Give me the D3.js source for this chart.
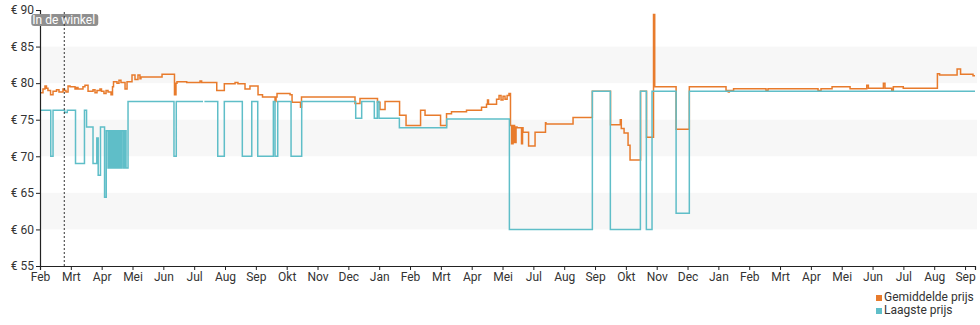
<!DOCTYPE html>
<html>
<head>
<meta charset="utf-8">
<script src="https://cdn.jsdelivr.net/npm/d3@7"></script>
<style>
body { margin: 0; background: #fff; }
svg { display: block; font-family: Roboto, sans-serif; }
</style>
</head>
<body>
<div id="chart"></div>
<script>
const width = 980;
const height = 325;

// first x tick, ticks come every 31 days
const startDate = Date.UTC(2022, 1, 20);
const dayMs = 864e5;
const tickStepDays = 31;
const tickCount = 31;
const lastDay = 940;

const monthNames = ["Jan", "Feb", "Mrt", "Apr", "Mei", "Jun", "Jul", "Aug", "Sep", "Okt", "Nov", "Dec"];
const priceTicks = [55, 60, 65, 70, 75, 80, 85, 90];
const bands = [[80, 85], [70, 75], [60, 65]];
const inStoreDay = 24.4;
const seriesNames = ["Gemiddelde prijs", "Laagste prijs"];

// [days since first tick, price]
const avgPrice = [
    [0, 78.7], [3, 79.2], [5, 79.6], [6.5, 79.3], [8, 79.0], [10.6, 78.4], [13.1, 78.9],
    [16.6, 79.1], [19.1, 78.8], [23.1, 79.2], [24.6, 79.0], [26.1, 78.8], [28.2, 79.6],
    [30.2, 79.5], [35.2, 79.2], [36.7, 79.4], [38.2, 79.2], [43.2, 79.5], [45.2, 79.7],
    [48.3, 78.9], [53.3, 79.1], [55.3, 78.7], [57.3, 79.0], [60.3, 79.2], [61.8, 78.9],
    [64.3, 78.6], [66.4, 79.0], [68.4, 78.8], [71.4, 78.4], [72.9, 79.5], [73.9, 80.2],
    [77.4, 80.0], [79.4, 80.4], [81.4, 80.1], [85.5, 79.2], [87.5, 80.2], [92.5, 81.1],
    [95.5, 80.5], [98.5, 81.1], [100.5, 80.6], [101.5, 80.85], [122.7, 81.2], [135.2, 78.4],
    [136.7, 80.0], [137.7, 80.2], [147.5, 80.1], [160.9, 80.3], [162.5, 80.1], [177.7, 79.0],
    [185.3, 79.9], [196.1, 80.1], [199, 79.9], [206.1, 79.2], [211.1, 79.6], [219.2, 78.4],
    [223.7, 78.1], [236.3, 77.5], [237.3, 78.1], [238.3, 78.6], [251.4, 78.4], [253.4, 77.4],
    [261.9, 76.7], [262.9, 78.1], [316.7, 77.2], [321.7, 77.9], [339.3, 77.4], [341.8, 76.4],
    [346.9, 77.5], [361.5, 75.6], [368, 74.2], [382.6, 76.3], [387.1, 75.6], [402.7, 74.2],
    [408.7, 75.8], [413.7, 76.1], [428.8, 76.3], [443.9, 76.7], [448.9, 77.1], [449.9, 77.7],
    [450.9, 77.1], [459, 77.8], [461.5, 78.3], [463.5, 77.7], [465.5, 78.2], [467.5, 77.8],
    [469.6, 78.3], [471.5, 78.6], [473, 74.2], [474.1, 71.7], [475.6, 74.2], [477.1, 71.9],
    [478.6, 74.0], [479.6, 73.9], [484.1, 71.7], [485.1, 73.9], [485.6, 73.3], [491.2, 71.4],
    [497.7, 73.3], [508.2, 74.6], [508.7, 74.4], [535.9, 75.3], [555.3, 78.9], [573.6, 74.3],
    [583.4, 75.0], [584.4, 73.8], [587.2, 73.2], [591.2, 71.5], [593.2, 69.5], [603.8, 78.9],
    [609.8, 72.6], [616.8, 89.4], [618, 79.5], [639.5, 73.7], [652.8, 79.5], [689.7, 79.0],
    [692, 78.8], [693, 79.0], [697.3, 79.25], [729.9, 79.0], [731.9, 79.25], [782.2, 79.0],
    [785.2, 79.25], [796.3, 79.5], [814.4, 79.25], [831.2, 79.7], [832.8, 79.3], [847.9, 80.0],
    [849.5, 79.3], [856.3, 79.0], [857.9, 79.5], [867.9, 79.3], [902.2, 81.3], [904.4, 81.1],
    [922, 81.95], [925.5, 81.2], [938, 81.0], [940, 81.0]
];

const lowPrice = [
    [0, 76.3], [10.8, 70.0], [13.1, 76.3], [24.8, 76.0], [27.4, 76.3], [35.7, 69.0],
    [44.7, 76.3], [46.8, 74.0], [53.3, 69.0], [57.1, 72.5], [58.5, 67.4], [60.8, 74.0],
    [64.9, 64.4], [66.6, 73.5], [68.4, 68.4], [69.9, 73.5], [71.4, 68.4], [72.9, 73.5],
    [74.4, 68.4], [75.9, 73.5], [77.4, 68.4], [78.9, 73.5], [80.4, 68.4], [81.9, 73.5],
    [83.5, 68.4], [85, 73.5], [86.5, 68.4], [88.5, 77.5], [134.7, 70.0], [137, 77.5],
    [163.9, 77.5], [164.5, null], [165.3, 77.5], [178.7, 70.0], [185.3, 77.5], [203.4, 70.0],
    [212.9, 77.5], [218.9, 70.0], [234.6, 77.5], [236.3, 70.0], [239, 77.5], [252.4, 70.0],
    [263.1, 77.5], [317.4, 75.2], [323.4, 77.5], [336.1, 75.2], [339.1, 77.5], [340.8, 75.2],
    [361.3, 73.9], [408.9, 75.1], [471.9, 60.0], [555.3, 78.9], [573.4, 60.0], [603.6, 78.9],
    [609.6, 60.0], [615.3, 78.9], [639.5, 62.2], [652.8, 78.9], [940, 78.9]
];

const colors = ["#e87b2c", "#5fbec8"];

const plotLeft = 40, plotRight = 975, plotTop = 10, plotBottom = 266;

const toDate = day => new Date(startDate + day * dayMs);

const x = d3.scaleUtc()
    .domain([toDate(0), toDate(lastDay)])
    .range([plotLeft, plotRight]);

const y = d3.scaleLinear()
    .domain([55, 90])
    .range([plotBottom, plotTop]);

const svg = d3.select("#chart")
    .append("svg")
    .attr("width", width)
    .attr("height", height);

// alternating background bands
svg.selectAll("rect.band")
    .data(bands)
    .enter()
    .append("rect")
    .attr("class", "band")
    .attr("x", plotLeft)
    .attr("width", plotRight - plotLeft + 2)
    .attr("y", d => y(d[1]))
    .attr("height", d => y(d[0]) - y(d[1]))
    .attr("fill", "#f7f7f7");

const line = d3.line()
    .defined(d => d[1] != null)
    .x(d => x(toDate(d[0])))
    .y(d => y(d[1]))
    .curve(d3.curveStepAfter);

[avgPrice, lowPrice].forEach((series, i) => {
    svg.append("path")
        .datum(series)
        .attr("fill", "none")
        .attr("stroke", colors[i])
        .attr("stroke-width", 1.5)
        .attr("d", line);
});

// axes
const tickDates = d3.range(tickCount).map(i => toDate(i * tickStepDays));

const xAxis = svg.append("g")
    .attr("transform", `translate(0,${plotBottom})`)
    .call(d3.axisBottom(x)
        .tickValues(tickDates)
        .tickSize(4)
        .tickPadding(2)
        .tickFormat(d => monthNames[d.getUTCMonth()]));

const yAxis = svg.append("g")
    .attr("transform", `translate(${plotLeft},0)`)
    .call(d3.axisLeft(y)
        .tickValues(priceTicks)
        .tickSize(4)
        .tickPadding(2)
        .tickFormat(d => "€ " + d));

[xAxis, yAxis].forEach(g => {
    g.select(".domain").attr("stroke", "#222").attr("stroke-width", 1.2);
    g.selectAll(".tick line").attr("stroke", "#222");
    g.selectAll("text")
        .attr("fill", "#333")
        .style("font-size", "12px")
        .style("font-family", "Roboto, sans-serif");
});

// "In de winkel" marker
const storeX = x(toDate(inStoreDay));
svg.append("rect")
    .attr("x", storeX - 33)
    .attr("y", 14)
    .attr("width", 67)
    .attr("height", 12)
    .attr("rx", 3)
    .attr("fill", "#8f8f8f");

svg.append("line")
    .attr("x1", storeX)
    .attr("x2", storeX)
    .attr("y1", 12)
    .attr("y2", plotBottom)
    .attr("stroke", "#333")
    .attr("stroke-dasharray", "2,2");

svg.append("text")
    .attr("x", storeX - 32)
    .attr("y", 24)
    .attr("fill", "#fff")
    .style("font-size", "12px")
    .text("In de winkel");

// legend
const legend = svg.append("g")
    .attr("transform", "translate(876,0)");

seriesNames.forEach((name, i) => {
    legend.append("rect")
        .attr("x", 0)
        .attr("y", 295 + i * 13)
        .attr("width", 6)
        .attr("height", 6)
        .attr("fill", colors[i]);
    legend.append("text")
        .attr("x", 8)
        .attr("y", 301 + i * 13)
        .attr("fill", "#333")
        .style("font-size", "12px")
        .text(name);
});
</script>
</body>
</html>
